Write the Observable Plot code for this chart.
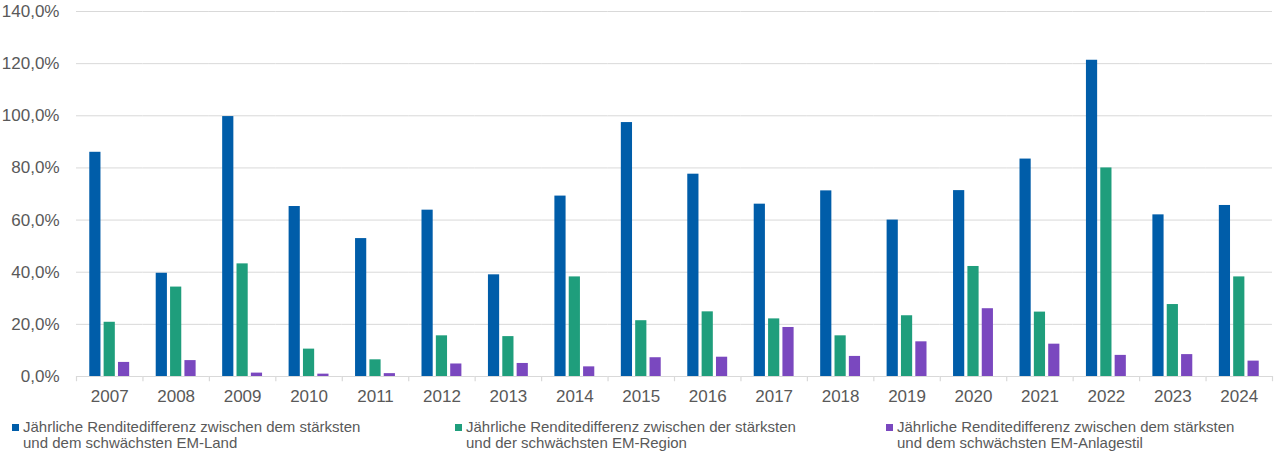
<!DOCTYPE html>
<html>
<head>
<meta charset="utf-8">
<script src="https://cdn.jsdelivr.net/npm/d3@7"></script>
<script src="https://cdn.jsdelivr.net/npm/@observablehq/plot@0.6"></script>
<style>
  html, body { margin: 0; padding: 0; background: #fff; }
  body { width: 1280px; height: 451px; overflow: hidden; font-family: "Liberation Sans", Arial, sans-serif; color: #595959; }
  #chart svg { display: block; }
  #legend { position: relative; height: 34px; margin-top: 9px; font-size: 15px; line-height: 16px; }
  .item { position: absolute; top: 0; display: flex; align-items: flex-start; }
  .sw { width: 7px; height: 7px; margin-top: 5px; margin-right: 4px; flex: none; }
</style>
</head>
<body>
<div id="chart"></div>
<div id="legend"></div>
<script>
const years = ["2007","2008","2009","2010","2011","2012","2013","2014","2015","2016","2017","2018","2019","2020","2021","2022","2023","2024"];
const seriesKeys = ["land", "region", "stil"];
const seriesLabels = [
  ["Jährliche Renditedifferenz zwischen dem stärksten", "und dem schwächsten EM-Land"],
  ["Jährliche Renditedifferenz zwischen der stärksten", "und der schwächsten EM-Region"],
  ["Jährliche Renditedifferenz zwischen dem stärksten", "und dem schwächsten EM-Anlagestil"]
];
const seriesColors = ["#005DA9", "#1F9E7C", "#7A48BF"];
const landValues   = [86.0, 39.6, 99.7, 65.2, 52.9, 63.8, 39.0, 69.2, 97.4, 77.6, 66.1, 71.2, 60.0, 71.3, 83.4, 121.3, 62.0, 65.6];
const regionValues = [20.8, 34.3, 43.2, 10.5, 6.4, 15.6, 15.3, 38.2, 21.4, 24.8, 22.1, 15.6, 23.3, 42.2, 24.7, 80.0, 27.6, 38.2];
const stilValues   = [5.4, 6.1, 1.3, 0.9, 1.1, 4.8, 5.0, 3.7, 7.2, 7.4, 18.8, 7.7, 13.3, 26.0, 12.4, 8.1, 8.4, 5.9];
const yTicks = [0, 20, 40, 60, 80, 100, 120, 140];

const valueSets = [landValues, regionValues, stilValues];
const table = [];
years.forEach((yr, i) => {
  seriesKeys.forEach((k, j) => table.push({year: yr, series: k, value: valueSets[j][i]}));
});

const W = 1280, H = 410, mL = 76, mR = 8, mT = 11, mB = 34;
const step = (W - mL - mR) / years.length;
const grid = "#d9d9d9";

const chart = Plot.plot({
  width: W, height: H,
  marginLeft: mL, marginRight: mR, marginTop: mT, marginBottom: mB,
  style: {fontFamily: '"Liberation Sans", Arial, sans-serif', fontSize: "17px", color: "#595959", background: "#fff"},
  fx: {domain: years, paddingInner: 0, paddingOuter: 0, round: false, label: null},
  x: {domain: seriesKeys, paddingInner: 0.22, paddingOuter: 0.925, round: false, axis: null},
  y: {domain: [0, 140], ticks: yTicks, label: null},
  color: {domain: seriesKeys, range: seriesColors},
  marks: [
    Plot.ruleY(yTicks.slice(1), {stroke: grid, strokeWidth: 1}),
    Plot.barY(table, {fx: "year", x: "series", y: "value", fill: "series"}),
    Plot.ruleY([0], {stroke: grid, strokeWidth: 1.2}),
    Plot.ruleX(years, {fx: d => d, x: () => "region", y1: 0, y2: -2, dx: -step / 2, stroke: grid, strokeWidth: 1.2}),
    Plot.ruleX(years.slice(-1), {fx: d => d, x: () => "region", y1: 0, y2: -2, dx: step / 2, stroke: grid, strokeWidth: 1.2}),
    Plot.axisY({ticks: yTicks, tickSize: 0, tickPadding: 17, tickFormat: d => d.toFixed(1).replace(".", ",") + "%", label: null, fontSize: 17}),
    Plot.axisFx({anchor: "bottom", tickSize: 0, tickPadding: 13, label: null, fontSize: 17})
  ]
});
document.getElementById("chart").appendChild(chart);

const legend = document.getElementById("legend");
const lefts = [12, 455, 886];
seriesKeys.forEach((k, j) => {
  const it = document.createElement("div");
  it.className = "item";
  it.style.left = lefts[j] + "px";
  const sw = document.createElement("div");
  sw.className = "sw";
  sw.style.background = seriesColors[j];
  const tx = document.createElement("div");
  tx.innerHTML = seriesLabels[j].join("<br>");
  it.appendChild(sw); it.appendChild(tx);
  legend.appendChild(it);
});
</script>
</body>
</html>
